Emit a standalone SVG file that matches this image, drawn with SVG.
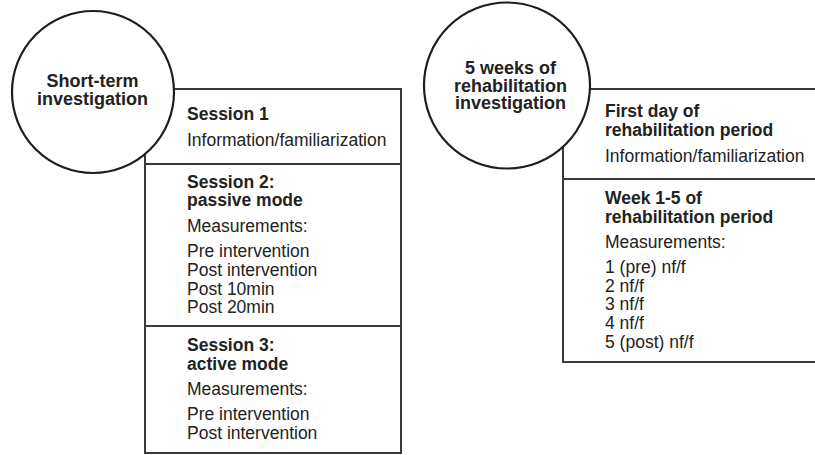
<svg xmlns="http://www.w3.org/2000/svg" width="815" height="455" viewBox="0 0 815 455">
<style>
.box{fill:#fff;stroke:#3a3a3a;stroke-width:2}
.circ{fill:#fff;stroke:#1e1e1e;stroke-width:2.2}
.div{stroke:#3a3a3a;stroke-width:2;fill:none}
text{font-family:"Liberation Sans",Arial,sans-serif;fill:#222}
.t{font-size:18px;font-weight:bold;text-anchor:middle}
.h{font-size:17.5px;font-weight:bold}
.b{font-size:17.5px}
</style>
<rect width="815" height="455" fill="#fff"/>
<g id="short-term-box">
<rect class="box" x="145" y="89" width="256" height="364"/>
<line class="div" x1="145" y1="164" x2="401" y2="164"/>
<line class="div" x1="145" y1="326" x2="401" y2="326"/>
<text class="h" x="187" y="120">Session 1</text>
<text class="b" x="187" y="146">Information/familiarization</text>
<text class="h" x="187" y="188">Session 2:<tspan x="187" y="206">passive mode</tspan></text>
<text class="b" x="187" y="232">Measurements:</text>
<text class="b" x="187" y="257">Pre intervention<tspan x="187" y="276">Post intervention</tspan><tspan x="187" y="295">Post 10min</tspan><tspan x="187" y="313">Post 20min</tspan></text>
<text class="h" x="187" y="351">Session 3:<tspan x="187" y="370">active mode</tspan></text>
<text class="b" x="187" y="395">Measurements:</text>
<text class="b" x="187" y="420">Pre intervention<tspan x="187" y="439">Post intervention</tspan></text>
</g>
<g id="short-term-circle">
<circle class="circ" cx="93" cy="92" r="81"/>
<text class="t" x="92.5" y="87">Short-term<tspan x="92.5" y="105">investigation</tspan></text>
</g>
<g id="rehab-box">
<rect class="box" x="563" y="89" width="260" height="273"/>
<line class="div" x1="563" y1="179" x2="823" y2="179"/>
<text class="h" x="605" y="117">First day of<tspan x="605" y="136">rehabilitation period</tspan></text>
<text class="b" x="605" y="162">Information/familiarization</text>
<text class="h" x="605" y="204">Week 1-5 of<tspan x="605" y="223">rehabilitation period</tspan></text>
<text class="b" x="605" y="248">Measurements:</text>
<text class="b" x="605" y="273">1 (pre) nf/f<tspan x="605" y="292">2 nf/f</tspan><tspan x="605" y="310">3 nf/f</tspan><tspan x="605" y="329">4 nf/f</tspan><tspan x="605" y="348">5 (post) nf/f</tspan></text>
</g>
<g id="rehab-circle">
<circle class="circ" cx="507" cy="85.5" r="83"/>
<text class="t" x="510.5" y="74">5 weeks of<tspan x="510.5" y="92">rehabilitation</tspan><tspan x="510.5" y="109">investigation</tspan></text>
</g>
<g id="connectors"></g>
</svg>
